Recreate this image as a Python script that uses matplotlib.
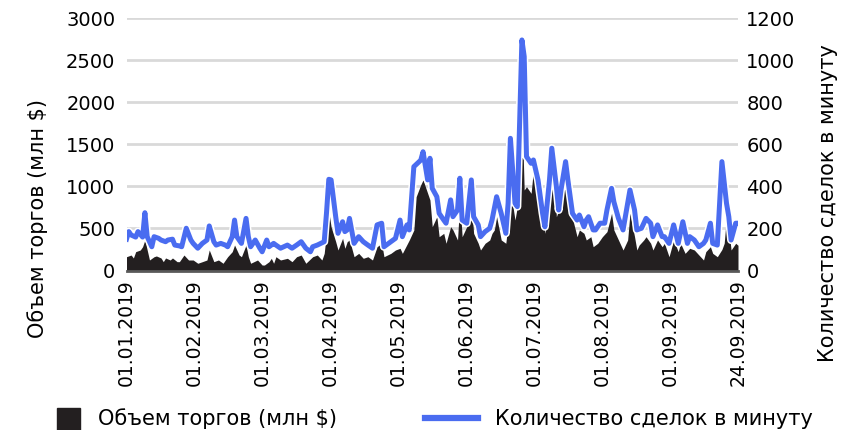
import matplotlib
matplotlib.use("Agg")
import matplotlib.pyplot as plt
import matplotlib.patheffects as pe
import numpy as np

# ---- data (day index from 01.01.2019) ----
vol_days = [0, 2, 3, 4, 6, 7, 8, 9, 10, 12, 13, 15, 16, 17, 19, 20, 22, 23, 25, 27, 29, 31,
            33, 35, 36, 38, 40, 42, 44, 46, 47, 49, 50, 52, 53, 54, 57, 59, 60, 62, 63, 64,
            65, 67, 70, 72, 74, 76, 78, 81, 83, 85, 86, 88, 89, 91, 92, 94, 95, 96,
            97, 99, 101, 103, 105, 107, 109, 111, 112, 115, 117, 119, 120, 123, 125, 126, 128, 129,
            131, 132, 133, 135, 136, 138, 139, 141, 142, 144, 145, 146, 148, 150, 151, 153, 154, 156,
            158, 159, 160, 161, 163, 165, 166, 167, 169, 170, 172, 173, 174, 176, 177, 179, 181, 182,
            184, 185, 187, 188, 189, 191, 192, 194, 196, 197, 199, 200, 202, 203, 205, 207, 209, 211,
            212, 214, 216, 218, 219, 221, 222, 223, 225, 226, 228, 229, 231, 233, 234, 236, 238, 240,
            241, 243, 245, 247, 249, 251, 252, 254, 255, 257, 259, 260, 261, 262, 263, 265, 266]
volume = [164, 184, 149, 224, 244, 283, 363, 244, 125, 164, 173, 149, 105, 149, 125, 149, 105, 105, 184, 125, 125, 86,
          105, 125, 244, 105, 125, 86, 164, 224, 303, 184, 164, 303, 164, 86, 125, 65, 65, 105, 145, 86,
          164, 125, 145, 105, 164, 184, 86, 164, 184, 125, 204, 700, 520, 343, 244, 383, 264, 343,
          363, 164, 204, 145, 164, 125, 283, 323, 164, 204, 244, 264, 204, 363, 482, 878, 1020, 1077,
          918, 839, 521, 640, 402, 442, 324, 521, 482, 363, 839, 402, 521, 800, 442, 324, 244, 324,
          363, 442, 482, 640, 363, 324, 562, 958, 601, 759, 1900, 958, 997, 918, 1196, 878, 640, 442,
          878, 1514, 640, 720, 800, 1235, 720, 620, 402, 482, 442, 363, 402, 283, 324, 402, 462, 680,
          482, 363, 244, 363, 680, 402, 244, 303, 363, 402, 324, 244, 363, 283, 324, 164, 363, 224,
          324, 204, 264, 244, 184, 125, 224, 283, 204, 164, 250, 324, 640, 482, 244, 324, 300]

cnt_days = [0, 1, 2, 4, 5, 7, 8, 9, 11, 12, 14, 15, 17, 18, 20, 21, 23, 24, 26, 28, 29, 31,
            33, 35, 36, 38, 39, 41, 43, 44, 46, 47, 48, 50, 52, 53, 54, 56, 58, 59, 61, 62,
            64, 65, 67, 70, 72, 74, 76, 78, 80, 81, 83, 86, 87, 88, 89, 91, 92, 94, 95, 96,
            97, 99, 101, 103, 105, 107, 109, 111, 112, 115, 117, 119, 120, 122, 123, 125, 128, 129,
            131, 132, 133, 135, 136, 138, 139, 141, 142, 144, 145, 146, 148, 150, 151, 153, 154, 156,
            158, 159, 161, 163, 165, 166, 167, 169, 170, 172, 173, 174, 176, 177, 179, 181, 182, 184,
            185, 187, 188, 189, 191, 192, 194, 196, 197, 199, 200, 201, 203, 204, 206, 208, 209, 211,
            212, 214, 216, 217, 219, 221, 222, 224, 225, 226, 228, 229, 231, 233, 234, 236, 238, 240,
            242, 244, 245, 247, 249, 251, 252, 254, 255, 257, 259, 261, 262, 263, 265, 266]
count = [149, 185, 169, 159, 185, 159, 275, 161, 113, 161, 153, 145, 137, 145, 149, 121, 117, 113, 201, 145, 129, 106,
         129, 145, 212, 137, 121, 129, 121, 113, 161, 240, 161, 129, 248, 161, 113, 145, 106, 89, 145, 113,
         129, 121, 106, 121, 106, 121, 137, 106, 89, 113, 121, 137, 274, 434, 431, 256, 177, 232, 185, 193,
         248, 129, 161, 137, 121, 106, 217, 225, 113, 137, 153, 240, 161, 217, 193, 494, 525, 565,
         431, 534, 391, 351, 272, 240, 225, 336, 256, 288, 439, 240, 225, 431, 256, 217, 161, 185,
         201, 240, 351, 272, 177, 320, 629, 320, 304, 1097, 1018, 542, 510, 526, 431, 272, 208, 431,
         582, 399, 288, 383, 518, 431, 272, 240, 264, 208, 240, 256, 193, 193, 225, 225, 288, 391,
         327, 248, 193, 256, 383, 288, 193, 201, 225, 248, 225, 161, 217, 161, 161, 129, 217, 129,
         232, 129, 161, 145, 113, 129, 145, 225, 129, 121, 518, 320, 256, 145, 225, 225]

tick_labels = ["01.01.2019", "01.02.2019", "01.03.2019", "01.04.2019", "01.05.2019",
               "01.06.2019", "01.07.2019", "01.08.2019", "01.09.2019", "24.09.2019"]

BLACK = "#231f20"
BLUE = "#4a6cf0"
FS = 14

fig = plt.figure(figsize=(8.57, 4.30), dpi=100)
ax = fig.add_axes([126.5 / 857, 1 - 270.5 / 430, (738 - 126.5) / 857, (270.5 - 18.3) / 430])
ax2 = ax.twinx()

ax.fill_between(vol_days, volume, 0, color=BLACK, linewidth=0, zorder=2)
ax.set_ylim(0, 3000)
ax.set_yticks(np.arange(0, 3001, 500))
ax.set_xlim(0, 266)
ax.set_xticks(np.linspace(0, 266, 10))
ax.set_xticklabels(tick_labels, rotation=90, fontsize=13.5)
ax.tick_params(axis="x", length=0, pad=6)
ax.tick_params(axis="y", length=0, labelsize=FS, pad=8)
ax.grid(axis="y", color="#d9d9d9", linewidth=2, zorder=0)
ax.set_axisbelow(True)
for s in ["top", "right", "left"]:
    ax.spines[s].set_visible(False)
ax.spines["bottom"].set_color("#595959")
ax.spines["bottom"].set_linewidth(2)

ax2.plot(cnt_days, count, color=BLUE, linewidth=3.6, solid_joinstyle="round",
         path_effects=[pe.Stroke(linewidth=5.8, foreground="white"), pe.Normal()], zorder=3)
ax2.set_ylim(0, 1200)
ax2.set_yticks(np.arange(0, 1201, 200))
ax2.tick_params(axis="y", length=0, labelsize=FS, pad=6)
for s in ["top", "right", "left", "bottom"]:
    ax2.spines[s].set_visible(False)

fig.text(38 / 857, 1 - 218 / 430, "Объем торгов (млн $)", rotation=90, fontsize=15,
         ha="center", va="center")
fig.text(828 / 857, 1 - 203 / 430, "Количество сделок в минуту", rotation=90, fontsize=15,
         ha="center", va="center")

# legend
from matplotlib.patches import Rectangle
from matplotlib.lines import Line2D
fig.patches.append(Rectangle((57 / 857, 0), 23 / 857, 22 / 430,
                             transform=fig.transFigure, color=BLACK))
fig.text(98 / 857, 1 - 419 / 430, "Объем торгов (млн $)", fontsize=15,
         ha="left", va="center")
fig.lines.append(Line2D([425 / 857, 478 / 857], [1 - 418 / 430, 1 - 418 / 430],
                        transform=fig.transFigure, color=BLUE, linewidth=4.5))
fig.text(495 / 857, 1 - 419 / 430, "Количество сделок в минуту", fontsize=15,
         ha="left", va="center")

fig.savefig("out.png", dpi=100)
